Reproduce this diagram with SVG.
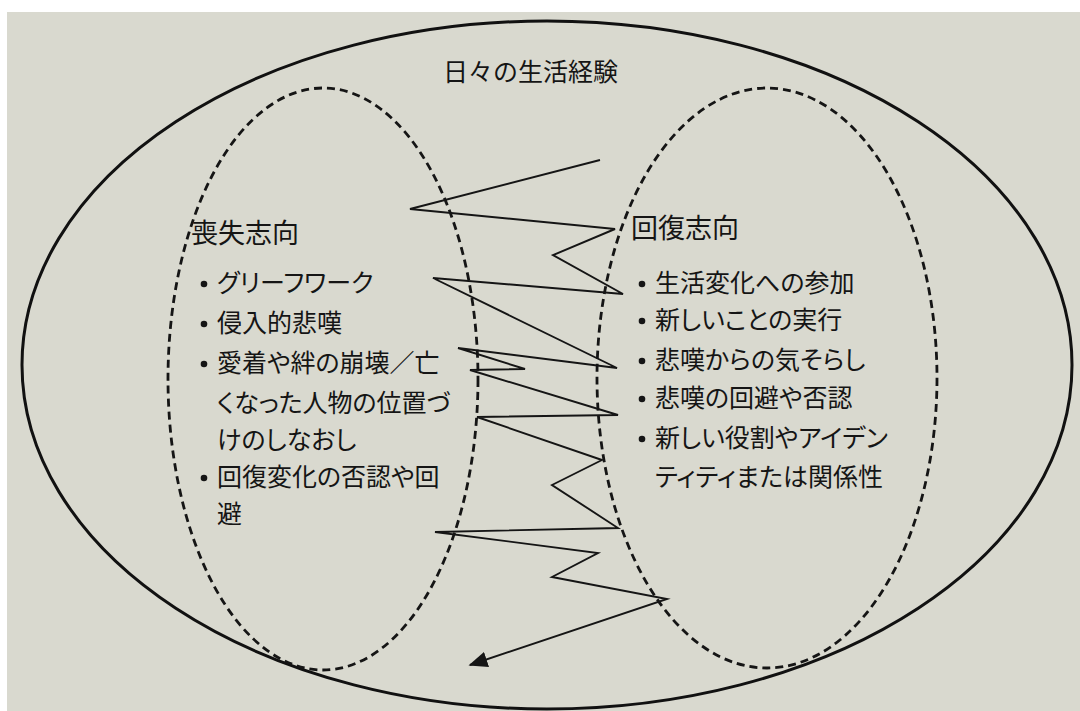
<svg xmlns="http://www.w3.org/2000/svg" width="1080" height="711" viewBox="0 0 1080 711">
<defs>
<style>
.t{font-family:"Noto Sans CJK JP","Noto Sans CJK SC",sans-serif;fill:#151515;}
.h{font-size:27px;}
.b{font-size:25px;font-feature-settings:"palt" 1;}
.dash{fill:none;stroke:#151515;stroke-width:2.8;stroke-dasharray:8 5;}
.dot{fill:#151515;}
</style>
<marker id="arrow" viewBox="0 0 12 10" refX="11" refY="5" markerWidth="19" markerHeight="16" markerUnits="userSpaceOnUse" orient="auto">
<path d="M0,0 L12,5 L0,10 z" fill="#151515"/>
</marker>
</defs>
<rect width="1080" height="711" fill="#ffffff"/>
<rect x="7" y="12" width="1073" height="699" fill="#d9d9cf"/>

<g id="daily-life">
<ellipse cx="547" cy="365" rx="525" ry="344" fill="none" stroke="#111" stroke-width="3"/>
<text class="t" x="443" y="81" font-size="25">日々の生活経験</text>
</g>

<g id="loss-oriented">
<ellipse class="dash" cx="323" cy="379" rx="155" ry="291"/>
<text class="t h" x="191" y="243">喪失志向</text>
<circle class="dot" cx="204" cy="284" r="3.3"/>
<text class="t b" x="217" y="292">グリーフワーク</text>
<circle class="dot" cx="204" cy="324" r="3.3"/>
<text class="t b" x="217" y="332">侵入的悲嘆</text>
<circle class="dot" cx="204" cy="364" r="3.3"/>
<text class="t b" x="217" y="372">愛着や絆の崩壊／亡</text>
<text class="t b" x="217" y="412">くなった人物の位置づ</text>
<text class="t b" x="217" y="449">けのしなおし</text>
<circle class="dot" cx="204" cy="478" r="3.3"/>
<text class="t b" x="217" y="486">回復変化の否認や回</text>
<text class="t b" x="217" y="523">避</text>
</g>

<g id="restoration-oriented">
<ellipse class="dash" cx="767" cy="378" rx="170" ry="290"/>
<text class="t h" x="631" y="238">回復志向</text>
<circle class="dot" cx="642" cy="284" r="3.3"/>
<text class="t b" x="655" y="292">生活変化への参加</text>
<circle class="dot" cx="642" cy="321" r="3.3"/>
<text class="t b" x="655" y="329">新しいことの実行</text>
<circle class="dot" cx="642" cy="361" r="3.3"/>
<text class="t b" x="655" y="369">悲嘆からの気そらし</text>
<circle class="dot" cx="642" cy="399" r="3.3"/>
<text class="t b" x="655" y="407">悲嘆の回避や否認</text>
<circle class="dot" cx="642" cy="439" r="3.3"/>
<text class="t b" x="655" y="447">新しい役割やアイデン</text>
<text class="t b" x="655" y="486">ティティまたは関係性</text>
</g>

<g id="connectors">
<polyline fill="none" stroke="#151515" stroke-width="1.9" stroke-linejoin="miter" marker-end="url(#arrow)"
points="600,160 410,209 615,229 553,255 623,294 433,278 617,368 458,348 525,369 470,370 618,415 477,417 602,460 552,485 618,528 435,532 598,553 552,577 667,599 470,665"/>
</g>
</svg>
